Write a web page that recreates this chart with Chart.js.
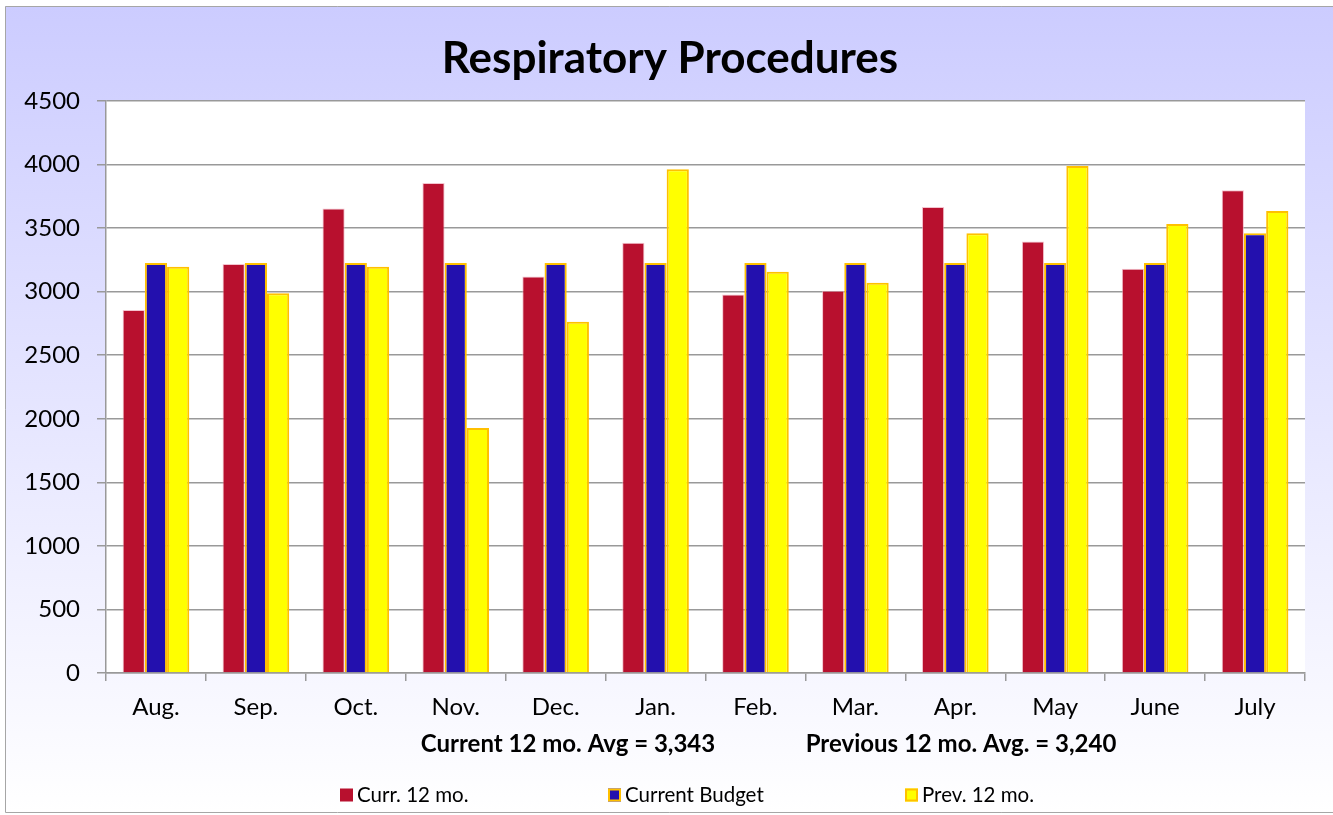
<!DOCTYPE html>
<html>
<head>
<meta charset="utf-8">
<title>Respiratory Procedures</title>
<script src="https://cdn.jsdelivr.net/npm/chart.js@4.4.1/dist/chart.umd.min.js"></script>
<style>
  html, body { margin: 0; padding: 0; background: #fff; }
  canvas { display: block; }
</style>
</head>
<body>
<canvas id="chart" width="1333" height="815"></canvas>
<script>
const months = ['Aug.', 'Sep.', 'Oct.', 'Nov.', 'Dec.', 'Jan.', 'Feb.', 'Mar.', 'Apr.', 'May', 'June', 'July'];
const curr12 = [2856, 3218, 3655, 3855, 3120, 3385, 2977, 3008, 3666, 3394, 3180, 3797];
const budget = [3225, 3225, 3225, 3225, 3225, 3225, 3225, 3225, 3225, 3225, 3225, 3459];
const prev12 = [3197, 2987, 3197, 1928, 2764, 3963, 3157, 3071, 3459, 3989, 3532, 3635];
const seriesNames = ['Curr. 12 mo.', 'Current Budget', 'Prev. 12 mo.'];
const yMax = 4500;
const yStep = 500;
const chartTitle = 'Respiratory Procedures';
const avgNotes = ['Current 12 mo. Avg = 3,343', 'Previous 12 mo. Avg. = 3,240'];

const FONT = 'Lato, "Open Sans", sans-serif';

// background, white plot area, frame, title, average notes and legend
const decor = {
    id: 'decor',
    beforeDraw(chart) {
        const { ctx, width, height, chartArea: a } = chart;
        ctx.save();
        const g = ctx.createLinearGradient(0, 6, 0, height - 2);
        g.addColorStop(0, '#ccccff');
        g.addColorStop(1, '#ffffff');
        ctx.fillStyle = g;
        ctx.fillRect(5, 6, width - 5, height - 8);
        ctx.fillStyle = '#fff';
        ctx.fillRect(a.left, a.top, a.right - a.left, a.bottom - a.top);
        ctx.strokeStyle = '#a6a6a6';
        ctx.lineWidth = 1;
        ctx.beginPath();
        ctx.moveTo(width, 6.5);
        ctx.lineTo(5.5, 6.5);
        ctx.lineTo(5.5, height - 2.5);
        ctx.lineTo(width, height - 2.5);
        ctx.stroke();
        ctx.restore();
    },
    afterDraw(chart) {
        const { ctx } = chart;
        ctx.save();
        ctx.fillStyle = '#000';
        ctx.textBaseline = 'middle';
        ctx.textAlign = 'center';
        ctx.font = 'bold 44px ' + FONT;
        ctx.fillText(chartTitle, 670, 59);

        ctx.font = 'bold 24px ' + FONT;
        ctx.fillText(avgNotes[0], 568, 744);
        ctx.fillText(avgNotes[1], 961, 744);

        const lx = [340, 608, 905];
        ctx.textAlign = 'left';
        ctx.font = '20.5px ' + FONT;
        chart.data.datasets.forEach((ds, i) => {
            const x = lx[i], y = 795;
            ctx.fillStyle = ds.backgroundColor;
            ctx.fillRect(x, y - 6.5, 13, 13);
            if (i > 0) {
                ctx.strokeStyle = '#ffc000';
                ctx.lineWidth = 2;
                ctx.strokeRect(x + 1, y - 5.5, 11, 11);
            }
            ctx.fillStyle = '#000';
            ctx.fillText(ds.label, x + 17, y);
        });
        ctx.restore();
    }
};

new Chart(document.getElementById('chart'), {
    type: 'bar',
    data: {
        labels: months,
        datasets: [
            { label: seriesNames[0], data: curr12, backgroundColor: '#b8102e', borderColor: 'rgba(240,170,185,0.7)', borderWidth: 1 },
            { label: seriesNames[1], data: budget, backgroundColor: '#2310ae', borderColor: '#ffc000', borderWidth: 2 },
            { label: seriesNames[2], data: prev12, backgroundColor: '#ffff00', borderColor: '#ffc000', borderWidth: 2 }
        ]
    },
    options: {
        responsive: false,
        animation: false,
        layout: { padding: { top: 101, right: 28, bottom: 0, left: 0 } },
        datasets: { bar: { categoryPercentage: 0.667, barPercentage: 1.0 } },
        plugins: {
            legend: { display: false },
            tooltip: { enabled: false },
            title: { display: false }
        },
        scales: {
            x: {
                afterFit(scale) { scale.height = 142; },
                grid: { drawOnChartArea: false, drawTicks: true, tickLength: 8, color: '#999', lineWidth: 1.5, offset: true },
                border: { display: true, color: '#999', width: 1.5 },
                ticks: { color: '#000', font: { family: FONT, size: 24 }, padding: 12 }
            },
            y: {
                min: 0, max: yMax,
                afterFit(scale) { scale.width = 106; },
                grid: { color: '#999', lineWidth: 1.5, tickLength: 9 },
                border: { display: true, color: '#999', width: 1.5 },
                ticks: { stepSize: yStep, color: '#000', font: { family: FONT, size: 24 }, padding: 17, callback: v => String(v) }
            }
        }
    },
    plugins: [decor]
});
</script>
</body>
</html>
